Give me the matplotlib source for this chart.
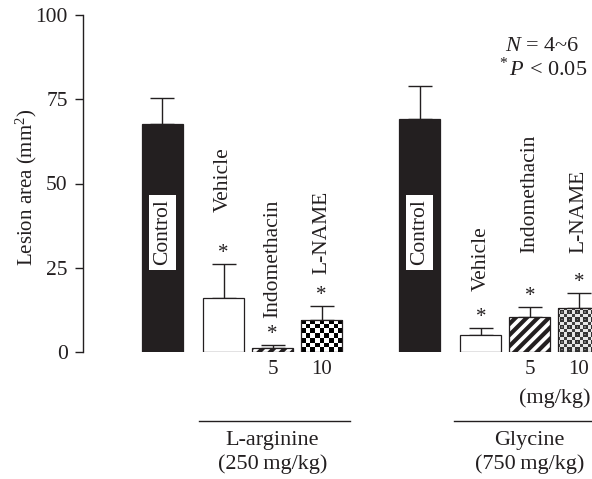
import numpy as np
import matplotlib
matplotlib.use("Agg")
import matplotlib.pyplot as plt

plt.rcParams['font.family'] = ['Liberation Serif', 'DejaVu Serif']
plt.rcParams['mathtext.fontset'] = 'custom'
plt.rcParams['mathtext.rm'] = 'Liberation Serif'
plt.rcParams['mathtext.it'] = 'Liberation Serif:italic'
plt.rcParams['hatch.linewidth'] = 3.0

# data
treatments = ['Control', 'Vehicle', 'Indomethacin', 'L-NAME']
doses = ['', '', '5', '10']
arg_means = [67.7, 16.0, 1.2, 9.5]
arg_err = [7.7, 10.1, 0.9, 4.1]
gly_means = [69.1, 5.0, 10.4, 13.0]
gly_err = [9.8, 2.0, 3.0, 4.5]
group_names = ['L-arginine\n(250\u2009mg/kg)', 'Glycine\n(750\u2009mg/kg)']
y_ticks = [0, 25, 50, 75, 100]

# layout
arg_x = np.array([0, 1.25, 2.25, 3.25])
gly_x = arg_x + 5.25
width = 0.84
ink = '#231f20'

fig = plt.figure(figsize=(5.92, 4.79), dpi=100)
ax = fig.add_axes([83 / 592, 127 / 479, 1 - 83 / 592, 337 / 479])
ax.set_xlim(-1.62, 8.77)
ax.set_ylim(0, 100)


def draw_pattern(bar, tile, reps_px):
    # fill a bar with a pixel tile, clipped to the bar outline
    x0, w, h = bar.get_x(), bar.get_width(), bar.get_height()
    p0 = ax.transData.transform((x0, 0))
    p1 = ax.transData.transform((x0 + w, h))
    nx = max(int(round((p1[0] - p0[0]) / reps_px)), 1)
    ny = max(int(round((p1[1] - p0[1]) / reps_px)), 1)
    ty = int(np.ceil(ny / tile.shape[0])) + 1
    tx = int(np.ceil(nx / tile.shape[1])) + 1
    img = np.tile(tile, (ty, tx))[:ny, :nx]
    im = ax.imshow(img, extent=(x0, x0 + w, 0, h), cmap='gray', vmin=0, vmax=1,
                   interpolation='nearest', aspect='auto', zorder=2)
    im.set_clip_path(bar)


checker = np.array([[0, 1], [1, 0]], dtype=float)
rings = np.array([
    [0.25, 0.9, 0.9, 0.9, 0.25],
    [0.9, 0.2, 0.2, 0.2, 0.9],
    [0.9, 0.2, 0.45, 0.2, 0.9],
    [0.9, 0.2, 0.2, 0.2, 0.9],
    [0.25, 0.9, 0.9, 0.9, 0.25],
])

for xs, means, errs, lname_tile, lname_px in [(arg_x, arg_means, arg_err, checker, 4.5),
                                               (gly_x, gly_means, gly_err, rings, 1.5)]:
    styles = [dict(facecolor=ink), dict(facecolor='white'),
              dict(facecolor='white', hatch='///'), dict(facecolor='white')]
    bars = []
    for xi, m, st in zip(xs, means, styles):
        b = ax.bar(xi, m, width, edgecolor=ink, linewidth=0.9, zorder=3, **st)[0]
        bars.append(b)
    bars[3].set_facecolor('none')
    draw_pattern(bars[3], lname_tile, lname_px)
    ax.errorbar(xs, means, yerr=[np.zeros(len(errs)), errs], fmt='none',
                ecolor=ink, elinewidth=1.0, capsize=8.5, capthick=1.0, zorder=1)
    for xi, m, e in zip(xs[1:], means[1:], errs[1:]):
        ax.text(xi, m + e + 0.3, '*', ha='center', va='bottom', fontsize=15, color=ink)
    for xi, d in zip(xs, doses):
        if d:
            ax.text(xi, -5.3, d, ha='center', va='center', fontsize=15, color=ink,
                    clip_on=False)
    # white boxed Control label
    ax.text(xs[0], 35.5, 'Control', rotation=90, ha='center', va='center', fontsize=15.5,
            color=ink, zorder=4,
            bbox=dict(boxstyle='square,pad=0.2', facecolor='white', edgecolor='none'))

# rotated treatment labels above the bars
arg_label_y = [41.5, 10.0, 23.0]
gly_label_y = [18.0, 29.4, 29.4]
for xs, ys in [(arg_x, arg_label_y), (gly_x, gly_label_y)]:
    for xi, yi, name in zip(xs[1:], ys, treatments[1:]):
        ax.text(xi, yi, name, rotation=90, ha='center', va='bottom', fontsize=15.5,
                color=ink)

# group brackets below
line_spans = [(arg_x[1] - 0.5, arg_x[3] + 0.57), (gly_x[1] - 0.55, gly_x[3] + 0.6)]
for (a, b), xs, name in zip(line_spans, [arg_x, gly_x], group_names):
    ax.plot([a, b], [-20.5, -20.5], color=ink, linewidth=1.0, clip_on=False)
    ax.text(xs[2], -29.8, name, ha='center', va='center', fontsize=16, color=ink,
            linespacing=1.25, clip_on=False)
ax.text(gly_x[2] + 0.5, -13.6, '(mg/kg)', ha='center', va='center', fontsize=16,
        color=ink, clip_on=False)

ax.text(0.975, 0.907, r'$N$ = 4~6', transform=ax.transAxes, ha='right', va='center',
        fontsize=16, color=ink)
ax.text(0.99, 0.84, r'$^*P$ < 0.05', transform=ax.transAxes, ha='right', va='center',
        fontsize=16, color=ink)

ax.set_yticks(y_ticks)
ax.set_xticks([])
ax.tick_params(axis='y', direction='out', length=6, width=1.0, colors=ink, labelsize=15.5,
               pad=5)
ax.set_ylabel('Lesion area (mm$^2$)', fontsize=15, color=ink)
ax.yaxis.set_label_coords(-0.087, 0.49)
for s in ['top', 'right', 'bottom']:
    ax.spines[s].set_visible(False)
ax.spines['left'].set_color(ink)
ax.spines['left'].set_linewidth(1.0)
ax.set_xlim(-1.62, 8.77)
ax.set_ylim(0, 100)

fig.savefig('out.png', dpi=100)
